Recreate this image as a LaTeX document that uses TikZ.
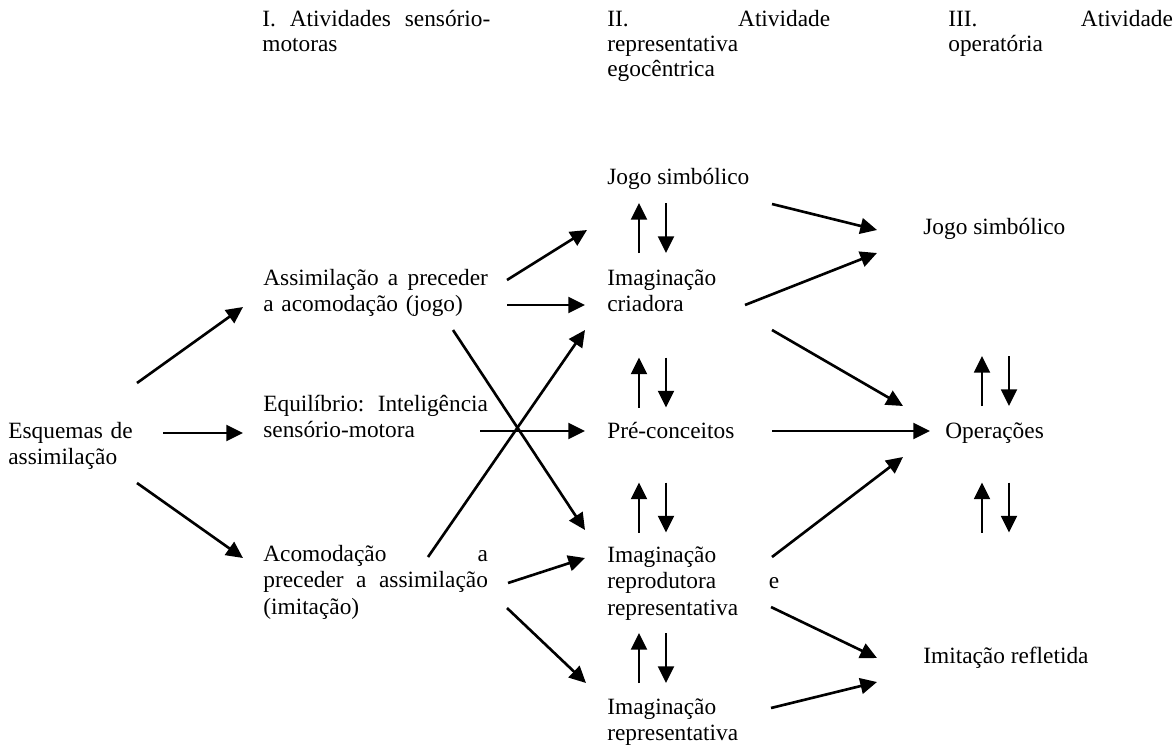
\documentclass[tikz,border=0pt]{standalone}
\usepackage{fontspec}
\setmainfont{Liberation Serif}
\usetikzlibrary{arrows.meta}

\begin{document}
\begin{tikzpicture}[x=0.57pt,y=-0.57pt,
		txt/.style={anchor=base west,inner sep=0pt,align=left,font=\fontsize{13.3}{15.2}\selectfont},
		head/.style={txt,font=\fontsize{13.3}{14.2}\selectfont},
		arr/.style={line width=1.5pt,-{Triangle[length=9.5pt,width=9pt]}}]
	\useasboundingbox (0,0) rectangle (1176,744);
	
	% headings
	\node[head,text width=130pt] (h1) at (262,27) {I.\hfill Atividades\hfill sensório-\\motoras};
	\node[head,text width=127pt] (h2) at (607,27) {II.\hfill Atividade\\representativa\\egocêntrica};
	\node[head,text width=128pt] (h3) at (948,27) {III.\hfill Atividade\\operatória};
	
	% left
	\node[txt,text width=80pt] (esq) at (8,438) {Esquemas de\\assimilação};
	
	% column I
	\node[txt,text width=128pt] (assim) at (263,285) {Assimilação\hfill a\hfill preceder\\a acomodação (jogo)};
	\node[txt,text width=128pt] (equil) at (263,411) {Equilíbrio:\hfill Inteligência\\sensório-motora};
	\node[txt,text width=128pt] (acom) at (263,561) {Acomodação\hfill a\\preceder\hfill a\hfill assimilação\\(imitação)};
	
	% column II
	\node[txt] (jogoA) at (607,184) {Jogo simbólico};
	\node[txt,text width=98pt] (criad) at (607,285) {Imaginação\\criadora};
	\node[txt] (pre) at (607,438) {Pré-conceitos};
	\node[txt,text width=98pt] (reprod) at (607,562) {Imaginação\\reprodutora\hfill e\\representativa};
	\node[txt,text width=98pt] (repres) at (607,714) {Imaginação\\representativa};
	
	% column III
	\node[txt] (jogoB) at (923,234) {Jogo simbólico};
	\node[txt] (oper) at (945,438) {Operações};
	\node[txt] (imit) at (923,663) {Imitação refletida};
	
	% arrow ends
	\coordinate (s1) at (137,383);  \coordinate (t1) at (243,307);
	\coordinate (s2) at (163,433);  \coordinate (t2) at (243,433);
	\coordinate (s3) at (137,483);  \coordinate (t3) at (243,558);
	\coordinate (s4) at (507,280);  \coordinate (t4) at (587,230);
	\coordinate (s5) at (507,305);  \coordinate (t5) at (585,305);
	\coordinate (s6) at (453,330);  \coordinate (t6) at (585,530);
	\coordinate (s7) at (480,431);  \coordinate (t7) at (585,431);
	\coordinate (s8) at (428,557);  \coordinate (t8) at (585,330);
	\coordinate (s9) at (508,583);  \coordinate (t9) at (585,558);
	\coordinate (s10) at (507,608); \coordinate (t10) at (586,683);
	\coordinate (s11) at (772,204); \coordinate (t11) at (877,230);
	\coordinate (s12) at (745,305); \coordinate (t12) at (877,253);
	\coordinate (s13) at (772,330); \coordinate (t13) at (903,406);
	\coordinate (s14) at (772,431); \coordinate (t14) at (930,431);
	\coordinate (s15) at (772,557); \coordinate (t15) at (903,457);
	\coordinate (s16) at (771,607); \coordinate (t16) at (877,658);
	\coordinate (s17) at (771,708); \coordinate (t17) at (877,682);
	
	\foreach \i in {1,...,17}
		\draw[arr] (s\i) -- (t\i);
	
	% up and down pairs
	\coordinate (ud1) at (652.5,228);
	\coordinate (ud2) at (652.5,382.5);
	\coordinate (ud3) at (652.5,507.5);
	\coordinate (ud4) at (652.5,658);
	\coordinate (ud5) at (995.5,381);
	\coordinate (ud6) at (995.5,507.5);
	
	\foreach \c in {ud1,ud2,ud3,ud4,ud5,ud6}{
		\draw[arr] ([shift={(-13.5,25)}]\c) -- ([shift={(-13.5,-25)}]\c);
		\draw[arr] ([shift={(13.5,-25)}]\c) -- ([shift={(13.5,25)}]\c);
	}
\end{tikzpicture}
\end{document}
